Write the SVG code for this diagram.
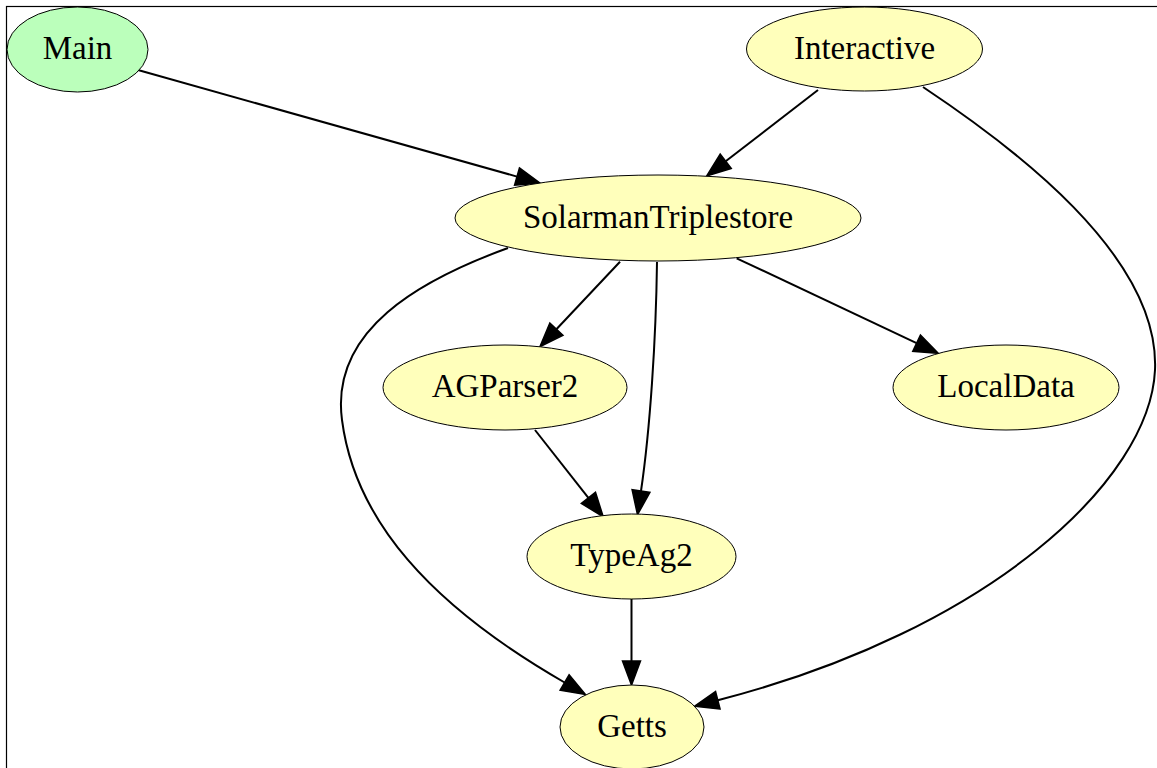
<svg xmlns="http://www.w3.org/2000/svg" width="1157" height="768" viewBox="0 0 1157 768">
<style>
.node ellipse{stroke:#000;stroke-width:1}
.y{fill:#ffffbb}
.g{fill:#bbffbb}
.node text{font-family:"Liberation Serif","Times New Roman",serif;font-size:33px;fill:#000;text-anchor:middle}
.edges path{fill:none;stroke:#000;stroke-width:2}
</style>
<defs>
<marker id="ah" markerUnits="userSpaceOnUse" markerWidth="30" markerHeight="24" refX="0" refY="10" orient="auto" overflow="visible">
<path d="M0,1 L24,10 L0,19 z" fill="#000" stroke="#000" stroke-width="1.5"/>
</marker>
</defs>
<rect x="6.5" y="6.5" width="1200" height="800" fill="#fff" stroke="#000" stroke-width="1.2"/>
<g class="edges">
<path marker-end="url(#ah)" d="M138,70 L517,176.6"/>
<path marker-end="url(#ah)" d="M818,90 L725.7,161.3"/>
<path marker-end="url(#ah)" d="M923,87 C1010,145 1160,255 1155,370 C1150,480 990,630 717.8,700.3"/>
<path marker-end="url(#ah)" d="M508,248 C420,280 330,330 342,420 C355,520 430,605 564.6,682.5"/>
<path marker-end="url(#ah)" d="M620,261.7 L556.4,329.2"/>
<path marker-end="url(#ah)" d="M657,262 C656,340 650,430 641,491"/>
<path marker-end="url(#ah)" d="M736.7,258.3 L916.6,343.1"/>
<path marker-end="url(#ah)" d="M535,430 L588.4,497.9"/>
<path marker-end="url(#ah)" d="M631.5,599 L631.5,661"/>
</g>
<g id="node-Main" class="node"><ellipse class="g" cx="77.5" cy="49.5" rx="70.5" ry="42.5"/><text x="77.5" y="59">Main</text></g>
<g id="node-Interactive" class="node"><ellipse class="y" cx="864.5" cy="49" rx="118" ry="42"/><text x="864.5" y="58.5">Interactive</text></g>
<g id="node-SolarmanTriplestore" class="node"><ellipse class="y" cx="658" cy="218" rx="203" ry="43"/><text x="658" y="227.5">SolarmanTriplestore</text></g>
<g id="node-AGParser2" class="node"><ellipse class="y" cx="505" cy="387.5" rx="122" ry="42.5"/><text x="505" y="397">AGParser2</text></g>
<g id="node-LocalData" class="node"><ellipse class="y" cx="1006" cy="387.5" rx="113" ry="42.5"/><text x="1006" y="397">LocalData</text></g>
<g id="node-TypeAg2" class="node"><ellipse class="y" cx="631.5" cy="556.5" rx="104.5" ry="42.5"/><text x="631.5" y="566">TypeAg2</text></g>
<g id="node-Getts" class="node"><ellipse class="y" cx="632" cy="727" rx="72" ry="42"/><text x="632" y="736.5">Getts</text></g>
</svg>
